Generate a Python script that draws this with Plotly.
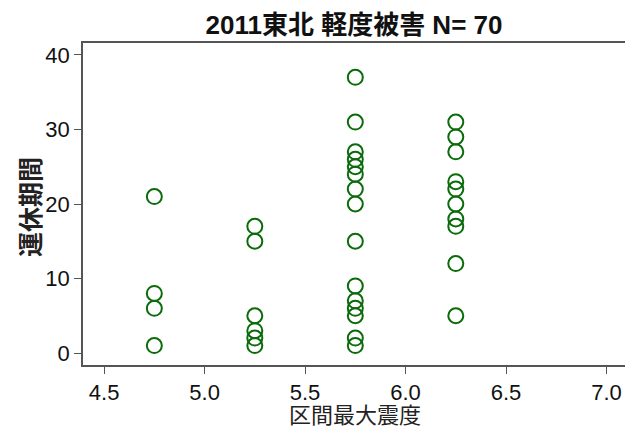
import plotly.graph_objects as go

# Data (x = interval max seismic intensity, y = suspension days)
x_475 = [4.75] * 4
y_475 = [21, 8, 6, 1]
x_525 = [5.25] * 6
y_525 = [17, 15, 5, 3, 2, 1]
x_575 = [5.75] * 15
y_575 = [37, 31, 27, 26, 25, 24, 22, 20, 15, 9, 7, 6, 5, 2, 1]
x_625 = [6.25] * 10
y_625 = [31, 29, 27, 23, 22, 20, 18, 17, 12, 5]

xs = x_475 + x_525 + x_575 + x_625
ys = y_475 + y_525 + y_575 + y_625

x_ticks = [4.5, 5.0, 5.5, 6.0, 6.5, 7.0]
x_ticklabels = ["4.5", "5.0", "5.5", "6.0", "6.5", "7.0"]
y_ticks = [0, 10, 20, 30, 40]

title_text = "2011東北 軽度被害 N= 70"
x_title = "区間最大震度"
y_title = "運休期間"

FONT = "Liberation Sans, Arial, Noto Sans CJK JP, sans-serif"
AXIS_COLOR = "#555555"
W, H = 625, 428
ML, MR, MT, MB = 83, 0, 43, 428 - 365
PW, PH = W - ML - MR, H - MT - MB

fig = go.Figure()
fig.add_trace(go.Scatter(
    x=xs, y=ys, mode="markers",
    marker=dict(symbol="circle-open", size=15, color="#0a6b0a",
                line=dict(width=2, color="#0a6b0a")),
    showlegend=False,
))

fig.update_layout(
    width=W, height=H,
    margin=dict(l=ML, r=MR, t=MT, b=MB),
    paper_bgcolor="white", plot_bgcolor="white",
    font=dict(family=FONT, color="#111111"),
    title=dict(text="<b>" + title_text + "</b>", x=0.5, xref="paper",
               y=1 - 25 / H, yref="container", yanchor="middle", xanchor="center",
               font=dict(size=26, family=FONT, color="#111111")),
    xaxis=dict(
        range=[4.395, 7.092], tickvals=x_ticks, ticktext=x_ticklabels,
        showgrid=False, zeroline=False, automargin=False,
        showline=True, linecolor=AXIS_COLOR, linewidth=1.5, mirror=True,
        ticks="outside", ticklen=7, tickwidth=1.2, tickcolor=AXIS_COLOR,
        tickfont=dict(size=22, family=FONT, color="#111111"),
    ),
    yaxis=dict(
        range=[-1.61, 41.61], tickvals=y_ticks,
        showgrid=False, zeroline=False, automargin=False,
        showline=True, linecolor=AXIS_COLOR, linewidth=1.5,
        ticks="outside", ticklen=7, tickwidth=1.2, tickcolor=AXIS_COLOR,
        tickfont=dict(size=22, family=FONT, color="#111111"),
    ),
    annotations=[
        dict(text=x_title, xref="paper", yref="paper",
             x=(355 - ML) / PW, y=(H - MB - 415) / PH,
             xanchor="center", yanchor="middle", showarrow=False,
             font=dict(size=22, family=FONT, color="#222222")),
        dict(text="<b>" + y_title + "</b>", xref="paper", yref="paper",
             x=(31 - ML) / PW, y=(H - MB - 207) / PH, textangle=-90,
             xanchor="center", yanchor="middle", showarrow=False,
             font=dict(size=25, family=FONT, color="#222222")),
    ],
)

fig.write_html(
    "out.html",
    config={"displayModeBar": False},
    post_script="document.body.style.margin='0';document.body.style.overflow='hidden';",
)
